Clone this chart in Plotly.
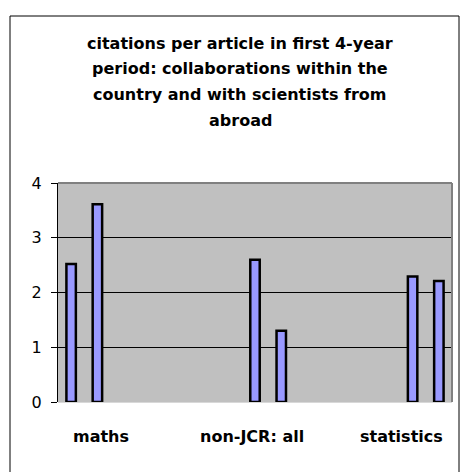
import plotly.graph_objects as go

categories = ["maths", "non-JCR: all", "statistics"]
series_1 = [2.52, None, None]
series_2 = [3.61, None, None]
series_3 = [None, 2.60, None]
series_4 = [None, 1.30, 2.29]
series_5 = [None, None, 2.21]
y_ticks = [0, 1, 2, 3, 4]
title_lines = [
    "citations per article in first 4-year",
    "period: collaborations within the",
    "country and with scientists from",
    "abroad",
]

W, H = 461, 472
L, R, T, B = 58, 9, 183, 70
PW, PH = W - L - R, H - T - B


def px_x(x):
    return (x - L) / PW


def px_y(y):
    return (H - B - y) / PH


fig = go.Figure()
for s in [series_1, series_2, series_3, series_4, series_5]:
    fig.add_trace(go.Bar(
        x=categories, y=s,
        marker=dict(color="#9999ff", line=dict(color="#000000", width=2.5)),
        showlegend=False,
    ))

annotations = []
for i, line in enumerate(title_lines):
    annotations.append(dict(
        text=line, xref="paper", yref="paper",
        x=px_x(240), y=px_y(43 + i * 25.7),
        xanchor="center", yanchor="middle", showarrow=False,
        font=dict(family="DejaVu Sans", size=16, color="#000000", weight="bold"),
    ))

label_shift = [-23, -3, 15]
for c, sh in zip(categories, label_shift):
    annotations.append(dict(
        text=c, xref="x", yref="paper", x=c, y=px_y(436),
        xshift=sh, xanchor="center", yanchor="middle", showarrow=False,
        font=dict(family="DejaVu Sans", size=16, color="#000000", weight="bold"),
    ))

shapes = [
    dict(type="rect", xref="paper", yref="paper",
         x0=px_x(10), x1=px_x(459), y0=px_y(490), y1=px_y(16),
         line=dict(color="#000000", width=1), fillcolor="rgba(0,0,0,0)", layer="below"),
    dict(type="line", xref="paper", yref="paper", x0=0, x1=1, y0=1, y1=1,
         line=dict(color="#808080", width=2)),
    dict(type="line", xref="paper", yref="paper", x0=1, x1=1, y0=0, y1=1,
         line=dict(color="#808080", width=2)),
]

fig.update_layout(
    width=W, height=H,
    margin=dict(l=L, r=R, t=T, b=B, pad=0),
    paper_bgcolor="#ffffff", plot_bgcolor="#c0c0c0",
    barmode="group", bargap=0, bargroupgap=0.64,
    annotations=annotations, shapes=shapes,
    xaxis=dict(
        type="category", showticklabels=False, showgrid=False,
        showline=False, zeroline=False, ticks="",
    ),
    yaxis=dict(
        range=[0, 4], tickvals=y_ticks, ticktext=[str(v) for v in y_ticks],
        showgrid=True, gridcolor="#000000", gridwidth=1,
        zeroline=True, zerolinecolor="#d8d8d8", zerolinewidth=1,
        showline=True, linecolor="#000000", linewidth=1,
        ticks="outside", ticklen=6, tickcolor="#000000", tickwidth=1,
        ticklabelstandoff=6,
        tickfont=dict(family="DejaVu Sans", size=16, color="#000000"),
    ),
    font=dict(family="DejaVu Sans"),
)

fig.write_html(
    "out.html",
    config={"displayModeBar": False},
    post_script="document.body.style.margin='0';document.body.style.overflow='hidden';",
)
